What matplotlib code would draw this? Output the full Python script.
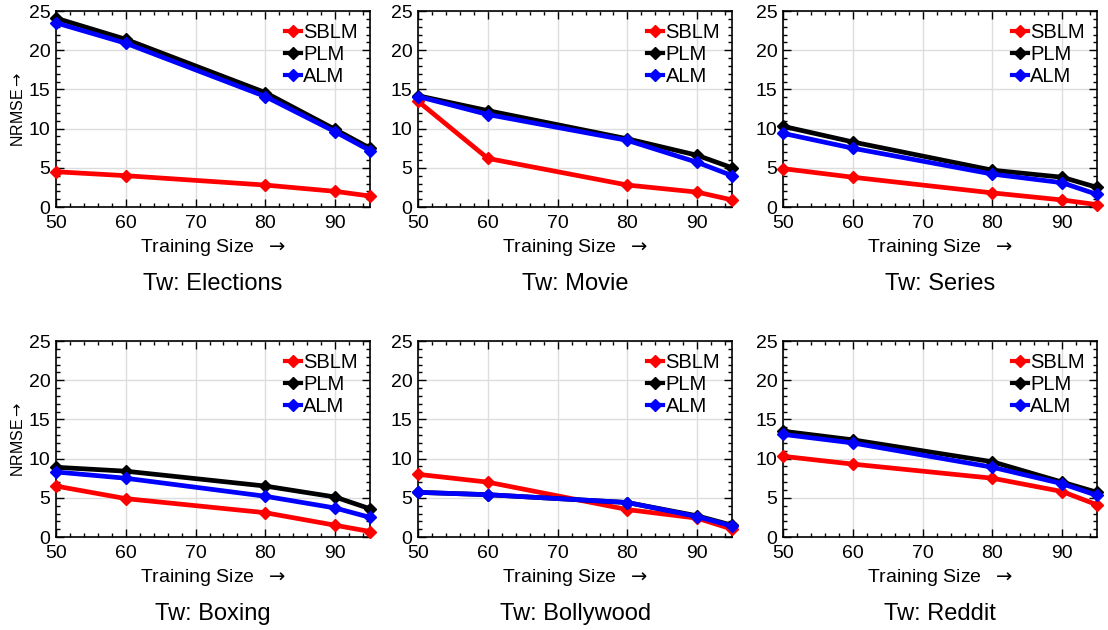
import numpy as np
import matplotlib
matplotlib.use('Agg')
from matplotlib import pyplot as plt
from matplotlib.ticker import MultipleLocator

plt.rcParams['font.family'] = ['Liberation Sans', 'DejaVu Sans']

#%% Data
train_size = [50, 60, 80, 90, 95]
methods = ['SBLM', 'PLM', 'ALM']
colors = {'SBLM': '#ff0000', 'PLM': '#000000', 'ALM': '#0000ff'}

titles = ['Tw: Elections', 'Tw: Movie', 'Tw: Series',
          'Tw: Boxing', 'Tw: Bollywood', 'Tw: Reddit']

sblm_elections = [4.5, 4.0, 2.8, 2.0, 1.4]
plm_elections = [24.1, 21.4, 14.6, 9.9, 7.5]
alm_elections = [23.5, 20.9, 14.1, 9.6, 7.2]

sblm_movie = [13.5, 6.2, 2.8, 1.9, 0.9]
plm_movie = [14.2, 12.3, 8.7, 6.6, 5.0]
alm_movie = [14.1, 11.8, 8.5, 5.7, 4.0]

sblm_series = [4.9, 3.8, 1.8, 0.9, 0.3]
plm_series = [10.3, 8.3, 4.7, 3.8, 2.5]
alm_series = [9.4, 7.5, 4.2, 3.1, 1.6]

sblm_boxing = [6.5, 4.9, 3.1, 1.5, 0.7]
plm_boxing = [8.9, 8.4, 6.5, 5.1, 3.6]
alm_boxing = [8.3, 7.5, 5.2, 3.7, 2.5]

sblm_bollywood = [8.0, 7.0, 3.5, 2.4, 1.0]
plm_bollywood = [5.7, 5.4, 4.4, 2.7, 1.5]
alm_bollywood = [5.7, 5.4, 4.4, 2.6, 1.4]

sblm_reddit = [10.3, 9.3, 7.5, 5.8, 4.1]
plm_reddit = [13.5, 12.4, 9.6, 7.0, 5.7]
alm_reddit = [13.1, 12.0, 8.9, 6.8, 5.3]

panels = [
    (sblm_elections, plm_elections, alm_elections),
    (sblm_movie, plm_movie, alm_movie),
    (sblm_series, plm_series, alm_series),
    (sblm_boxing, plm_boxing, alm_boxing),
    (sblm_bollywood, plm_bollywood, alm_bollywood),
    (sblm_reddit, plm_reddit, alm_reddit),
]

#%% Layout (figure fractions)
lefts = [0.0505, 0.3773, 0.7067]
bottoms = [0.6714, 0.1476]
W, H = 0.2835, 0.311

fig = plt.figure(figsize=(11.08, 6.30), dpi=100)

for idx, (series, title) in enumerate(zip(panels, titles)):
    r, c = divmod(idx, 3)
    ax = fig.add_axes([lefts[c], bottoms[r], W, H])
    for name, vals in zip(methods, series):
        ax.plot(train_size, vals, color=colors[name], lw=3.4,
                marker='D', ms=6, mew=1, label=name, clip_on=False, zorder=3)
    ax.set_xlim(50, 95)
    ax.set_ylim(0, 25)
    ax.xaxis.set_major_locator(MultipleLocator(10))
    ax.xaxis.set_minor_locator(MultipleLocator(2))
    ax.yaxis.set_major_locator(MultipleLocator(5))
    ax.yaxis.set_minor_locator(MultipleLocator(1))
    ax.tick_params(which='both', direction='in', top=True, right=True,
                   labelsize=14, width=1)
    ax.tick_params(which='major', length=6)
    ax.tick_params(which='minor', length=3)
    ax.tick_params(axis='x', which='major', pad=6)
    ax.tick_params(axis='y', which='major', pad=4)
    ax.grid(True, which='major', color='#dddddd', lw=1)
    ax.set_axisbelow(True)
    for sp in ax.spines.values():
        sp.set_linewidth(1.2)
    ax.set_xlabel('Training Size  $\\rightarrow$', fontsize=14, labelpad=3)
    if c == 0:
        ax.set_ylabel('NRMSE$\\rightarrow$', fontsize=11.5, labelpad=2)
    ax.text(0.5, -0.395, title, transform=ax.transAxes, ha='center',
            va='center', fontsize=17)
    leg = ax.legend(loc='upper right', frameon=False, fontsize=14.5,
                    handlelength=0.8, handletextpad=0.1, labelspacing=0.15,
                    borderaxespad=0.2)
    for h in leg.legend_handles:
        h.set_linewidth(3)
        h.set_markersize(6)

fig.savefig('out.png', dpi=100)
